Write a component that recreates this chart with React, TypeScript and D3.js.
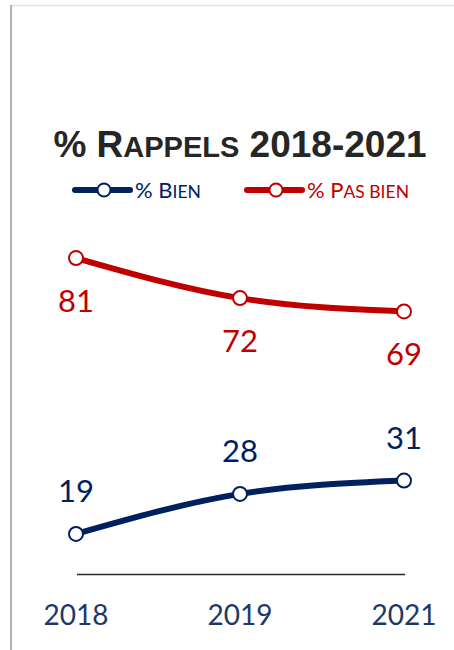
import { useEffect, useRef } from "react";
import * as d3 from "d3";

const YEARS = ["2018", "2019", "2021"];
const BIEN = [19, 28, 31];
const PAS_BIEN = [81, 72, 69];

const BLUE = "#002060";
const RED = "#c00000";
const AXIS_TEXT = "#1f3864";
const W = 454;
const H = 650;
const FONT = "Lato, 'Open Sans', sans-serif";

export default function App() {
  const ref = useRef<SVGSVGElement | null>(null);

  useEffect(() => {
    if (!ref.current) return;
    const svg = d3.select(ref.current);
    svg.selectAll("*").remove();

    // frame
    svg.append("line").attr("x1", 11).attr("x2", W).attr("y1", 5.5).attr("y2", 5.5)
      .attr("stroke", "#dde3ee").attr("stroke-width", 1.5);
    svg.append("line").attr("x1", 11).attr("x2", 11).attr("y1", 5).attr("y2", H)
      .attr("stroke", "#9a9a9a").attr("stroke-width", 1.5);

    // title (small caps)
    const title = svg.append("text").attr("x", 240).attr("y", 157)
      .attr("text-anchor", "middle").attr("font-family", "'Liberation Sans', Arial, sans-serif")
      .attr("font-weight", "bold").attr("fill", "#262626");
    title.append("tspan").attr("font-size", 37).text("% R");
    title.append("tspan").attr("font-size", 29).text("APPELS");
    title.append("tspan").attr("font-size", 37).text(" 2018-2021");

    const x = d3.scalePoint<string>().domain(YEARS).range([76, 404]);
    const y = d3.scaleLinear().domain([0, 100]).range([618.5, 173.5]);

    // legend
    const legend = [
      { name: ["% B", "IEN"], color: BLUE, x0: 75 },
      { name: ["% P", "AS BIEN"], color: RED, x0: 247 },
    ];
    legend.forEach((l) => {
      const g = svg.append("g");
      g.append("line").attr("x1", l.x0).attr("x2", l.x0 + 55).attr("y1", 190).attr("y2", 190)
        .attr("stroke", l.color).attr("stroke-width", 6).attr("stroke-linecap", "round");
      g.append("circle").attr("cx", l.x0 + 29).attr("cy", 190).attr("r", 6.5)
        .attr("fill", "#fff").attr("stroke", l.color).attr("stroke-width", 2);
      const t = g.append("text").attr("x", l.x0 + 60).attr("y", 198)
        .attr("font-family", FONT).attr("fill", l.color);
      t.append("tspan").attr("font-size", 22).text(l.name[0]);
      t.append("tspan").attr("font-size", 17.5).text(l.name[1]);
    });

    // axis baseline
    svg.append("line").attr("x1", 77).attr("x2", 405).attr("y1", 574.5).attr("y2", 574.5)
      .attr("stroke", "#262626").attr("stroke-width", 1.5);

    svg.selectAll(".year").data(YEARS).enter().append("text")
      .attr("x", (d) => x(d)!).attr("y", 625).attr("text-anchor", "middle")
      .attr("font-family", FONT).attr("font-size", 28).attr("fill", AXIS_TEXT).text((d) => d);

    const series = [
      { values: PAS_BIEN, color: RED, dy: 54 },
      { values: BIEN, color: BLUE, dy: -32 },
    ];
    const line = d3.line<number>()
      .x((_, i) => x(YEARS[i])!)
      .y((d) => y(d))
      .curve(d3.curveMonotoneX);

    series.forEach((s) => {
      svg.append("path").attr("d", line(s.values)!).attr("fill", "none")
        .attr("stroke", s.color).attr("stroke-width", 6).attr("stroke-linecap", "round");
      svg.selectAll(null).data(s.values).enter().append("circle")
        .attr("cx", (_, i) => x(YEARS[i])!).attr("cy", (d) => y(d)).attr("r", 7)
        .attr("fill", "#fff").attr("stroke", s.color).attr("stroke-width", 2);
      svg.selectAll(null).data(s.values).enter().append("text")
        .attr("x", (_, i) => x(YEARS[i])!).attr("y", (d) => y(d) + s.dy)
        .attr("text-anchor", "middle").attr("font-family", FONT).attr("font-size", 31)
        .attr("fill", s.color).text((d) => d);
    });
  }, []);

  return (
    <svg ref={ref} width={W} height={H}
      style={{ position: "absolute", left: 0, top: 0, background: "#fff" }} />
  );
}
